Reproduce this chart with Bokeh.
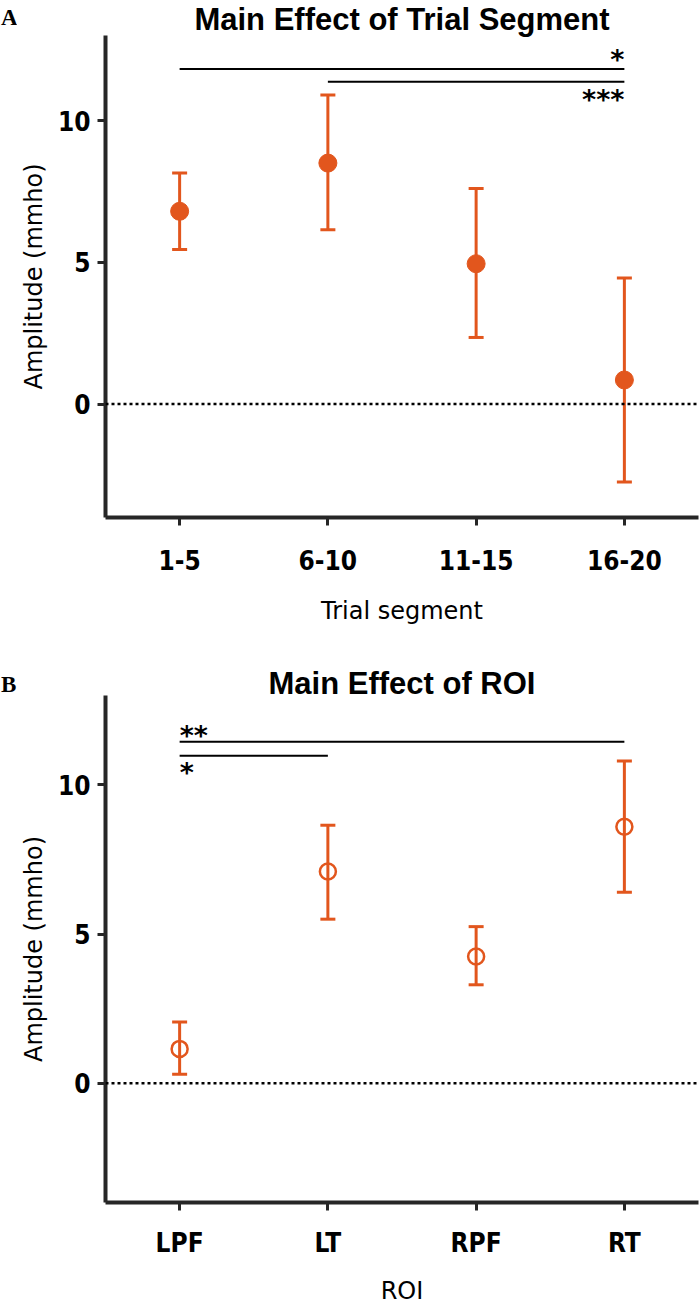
from bokeh.plotting import figure
from bokeh.models import Range1d, FactorRange, FixedTicker, Span, Whisker, ColumnDataSource, Div
from bokeh.layouts import column, row
from bokeh.embed import file_html
from bokeh.resources import INLINE
from bokeh.core.properties import value

# ---------------- data ----------------
segments = ["1-5", "6-10", "11-15", "16-20"]
seg_mean = [6.8, 8.5, 4.95, 0.85]
seg_upper = [8.15, 10.9, 7.6, 4.45]
seg_lower = [5.45, 6.15, 2.35, -2.75]

rois = ["LPF", "LT", "RPF", "RT"]
roi_mean = [1.15, 7.1, 4.25, 8.6]
roi_upper = [2.05, 8.65, 5.25, 10.8]
roi_lower = [0.3, 5.5, 3.3, 6.4]

y_ticks = [0, 5, 10]

# significance brackets
seg_sig_from = ["1-5", "6-10"]
seg_sig_to = ["16-20", "16-20"]
seg_sig_y = [11.82, 11.37]
seg_sig_text = ["*", "***"]
seg_sig_text_y = [12.15, 10.75]

roi_sig_from = ["LPF", "LPF"]
roi_sig_to = ["RT", "LT"]
roi_sig_y = [11.45, 10.98]
roi_sig_text = ["**", "*"]
roi_sig_text_y = [11.65, 10.41]

ORANGE = "#E2561D"
AXIS = "#262626"
TICK_FONT = "DejaVu Sans Condensed, DejaVu Sans"
LEFT_STRIP = 16


def letter_div(letter, height, pad_top):
    return Div(text=letter, width=LEFT_STRIP, height=height, margin=0,
               styles={"font-family": "Liberation Serif, serif",
                       "font-weight": "bold", "font-size": "23px",
                       "line-height": "23px", "padding-left": "1px",
                       "padding-top": f"{pad_top}px", "color": "black"})


def make_panel(cats, mean, upper, lower, filled, height, top, bottom, xlabel,
               title, title_standoff,
               sig_from, sig_to, sig_y, sig_text, sig_text_y, sig_anchor, sig_align,
               lab_standoff, axlab_standoff):
    p = figure(x_range=FactorRange(factors=cats), y_range=Range1d(-4, 13),
               width=700 - LEFT_STRIP, height=height, output_backend="svg",
               toolbar_location=None, min_border_left=105 - LEFT_STRIP,
               min_border_right=2, min_border_top=top,
               min_border_bottom=bottom, title=title)
    p.title.align = "center"
    p.title.text_font = "Liberation Sans"
    p.title.text_font_style = "bold"
    p.title.text_font_size = "31px"
    p.title.text_line_height = 0.85
    p.title.text_color = "black"
    p.title.standoff = title_standoff
    p.outline_line_color = None
    p.xgrid.visible = False
    p.ygrid.visible = False

    for ax in (p.xaxis, p.yaxis):
        ax.axis_line_width = 4
        ax.axis_line_color = AXIS
        ax.major_tick_line_width = 3
        ax.major_tick_line_color = AXIS
        ax.major_tick_in = 0
        ax.major_tick_out = 8
        ax.minor_tick_line_color = None
        ax.major_label_text_font = TICK_FONT
        ax.major_label_text_font_style = "bold"
        ax.major_label_text_font_size = "26px"
        ax.major_label_text_color = "black"
        ax.axis_label_text_font = "DejaVu Sans"
        ax.axis_label_text_font_style = "normal"
        ax.axis_label_text_font_size = "24px"
        ax.axis_label_text_color = "black"

    p.yaxis.ticker = FixedTicker(ticks=y_ticks)
    p.yaxis.axis_label = "Amplitude (mmho)"
    p.yaxis.major_label_standoff = 7
    p.yaxis.axis_label_standoff = 7
    p.xaxis.axis_label = xlabel
    p.xaxis.major_label_standoff = lab_standoff
    p.xaxis.axis_label_standoff = axlab_standoff

    p.add_layout(Span(location=0, dimension="width", line_color="black",
                      line_width=2.5, line_dash="3 3"))

    src = ColumnDataSource(dict(x=cats, mean=mean, upper=upper, lower=lower))
    w = Whisker(base="x", upper="upper", lower="lower", source=src,
                dimension="height", line_color=ORANGE, line_width=3)
    for h in (w.upper_head, w.lower_head):
        h.size = 15
        h.line_width = 3
        h.line_color = ORANGE
    p.add_layout(w)

    if filled:
        p.scatter("x", "mean", source=src, size=18, fill_color=ORANGE,
                  line_color=ORANGE)
    else:
        p.scatter("x", "mean", source=src, size=16, fill_color=None,
                  line_color=ORANGE, line_width=2.5)

    p.segment(x0=sig_from, y0=sig_y, x1=sig_to, y1=sig_y,
              line_color="black", line_width=2)
    p.text(x=sig_anchor, y=sig_text_y, text=sig_text, text_align=sig_align,
           text_baseline="alphabetic", text_font=value("DejaVu Sans"),
           text_font_style="bold", text_font_size="27px", text_color="black")
    return p


pA = make_panel(segments, seg_mean, seg_upper, seg_lower, True, 640, 33, 123,
                "Trial segment", "Main Effect of Trial Segment", -2,
                seg_sig_from, seg_sig_to, seg_sig_y, seg_sig_text, seg_sig_text_y,
                ["16-20", "16-20"], "right", 24, 24)
pB = make_panel(rois, roi_mean, roi_upper, roi_lower, False, 668, 55, 106,
                "ROI", "Main Effect of ROI", -10,
                roi_sig_from, roi_sig_to, roi_sig_y, roi_sig_text, roi_sig_text_y,
                ["LPF", "LPF"], "left", 17, 16)

layout = column(row(letter_div("A", 640, 6), pA, spacing=0),
                row(letter_div("B", 668, 33), pB, spacing=0), spacing=0)
open("out.html", "w").write(file_html(layout, INLINE))
